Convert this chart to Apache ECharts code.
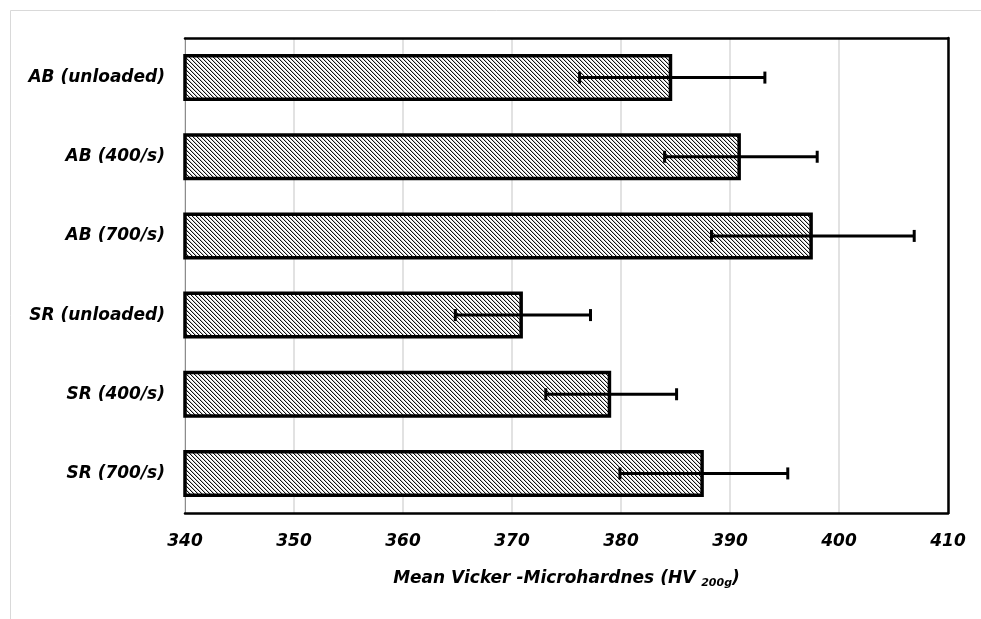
<!DOCTYPE html>
<html>
<head>
<meta charset="utf-8">
<script src="https://cdn.jsdelivr.net/npm/echarts@6/dist/echarts.min.js"></script>
<style>
  html, body { margin: 0; padding: 0; background: #fff; }
  #chart { width: 981px; height: 619px; }
</style>
</head>
<body>
<div id="chart"></div>
<script>
// Mean Vickers microhardness per condition, with standard deviation
const categories = ['AB (unloaded)', 'AB (400/s)', 'AB (700/s)', 'SR (unloaded)', 'SR (400/s)', 'SR (700/s)'];
const meanHV = [384.7, 391.0, 397.6, 371.0, 379.1, 387.6];
const errHV = [8.5, 7.0, 9.3, 6.2, 6.0, 7.7];
const axisMin = 340;
const axisMax = 410;
const axisStep = 10;

// Diagonal hatch fill for the bars
function hatchPattern() {
  const c = document.createElement('canvas');
  c.width = 4; c.height = 4;
  const ctx = c.getContext('2d');
  ctx.fillStyle = '#ffffff';
  ctx.fillRect(0, 0, 4, 4);
  for (let i = 0; i < 4; i++) {
    ctx.fillStyle = '#111111';
    ctx.fillRect(i, i, 1, 1);
    ctx.fillStyle = '#c4c4c4';
    ctx.fillRect((i + 1) % 4, i, 1, 1);
  }
  return c;
}

const errorData = categories.map((c, i) => [i, meanHV[i] - errHV[i], meanHV[i] + errHV[i]]);

const font = '"DejaVu Sans", sans-serif';

const chart = echarts.init(document.getElementById('chart'), null, { renderer: 'canvas' });
chart.setOption({
  animation: false,
  backgroundColor: '#ffffff',
  graphic: [{
    type: 'rect',
    left: 8, top: 8,
    shape: { width: 1000, height: 700 },
    style: { fill: 'none', stroke: '#d9d9d9', lineWidth: 1 },
    silent: true
  }],
  grid: { left: 185, right: 33, top: 38, bottom: 106, containLabel: false },
  xAxis: [{
    type: 'value',
    min: axisMin, max: axisMax, interval: axisStep,
    axisLine: { show: true, lineStyle: { color: '#000', width: 2.5 } },
    axisTick: { show: false },
    splitLine: { show: true, lineStyle: { color: '#d9d9d9', width: 1.5 } },
    axisLabel: {
      margin: 20,
      color: '#000',
      fontFamily: font, fontSize: 17, fontWeight: 'bold', fontStyle: 'italic'
    },
    name: '{a|Mean Vicker -Microhardnes (HV }{s|200g}{a|)}',
    nameLocation: 'middle',
    nameGap: 56,
    nameTextStyle: {
      rich: {
        a: { fontFamily: font, fontSize: 17, fontWeight: 'bold', fontStyle: 'italic', color: '#000' },
        s: { fontFamily: font, fontSize: 11, fontWeight: 'bold', fontStyle: 'italic', color: '#000', padding: [9, 0, 0, 0] }
      }
    }
  }, {
    type: 'value',
    position: 'top',
    min: axisMin, max: axisMax, interval: axisStep,
    axisLine: { show: true, onZero: false, lineStyle: { color: '#000', width: 2.5 } },
    axisTick: { show: false },
    axisLabel: { show: false },
    splitLine: { show: false }
  }],
  yAxis: [{
    type: 'category',
    data: categories,
    inverse: true,
    axisLine: { show: true, lineStyle: { color: '#8c8c8c', width: 1 } },
    axisTick: { show: false },
    axisLabel: {
      margin: 20,
      color: '#000',
      fontFamily: font, fontSize: 17, fontWeight: 'bold', fontStyle: 'italic'
    }
  }, {
    type: 'value',
    position: 'right',
    axisLine: { show: true, onZero: false, lineStyle: { color: '#000', width: 2.5 } },
    axisTick: { show: false },
    axisLabel: { show: false },
    splitLine: { show: false }
  }],
  series: [{
    type: 'bar',
    data: meanHV,
    barWidth: 47,
    z: 3,
    itemStyle: {
      color: { image: hatchPattern(), repeat: 'repeat' },
      borderColor: '#000',
      borderWidth: 3.5
    }
  }, {
    type: 'custom',
    data: errorData,
    encode: { x: [1, 2], y: 0 },
    z: 5,
    renderItem: function (params, api) {
      const i = api.value(0);
      const lo = api.coord([api.value(1), i]);
      const hi = api.coord([api.value(2), i]);
      const capH = 12;
      const st = { stroke: '#000', lineWidth: 3 };
      return {
        type: 'group',
        children: [
          { type: 'line', shape: { x1: lo[0], y1: lo[1], x2: hi[0], y2: hi[1] }, style: st },
          { type: 'line', shape: { x1: lo[0], y1: lo[1] - capH / 2, x2: lo[0], y2: lo[1] + capH / 2 }, style: st },
          { type: 'line', shape: { x1: hi[0], y1: hi[1] - capH / 2, x2: hi[0], y2: hi[1] + capH / 2 }, style: st }
        ]
      };
    }
  }]
});
</script>
</body>
</html>
